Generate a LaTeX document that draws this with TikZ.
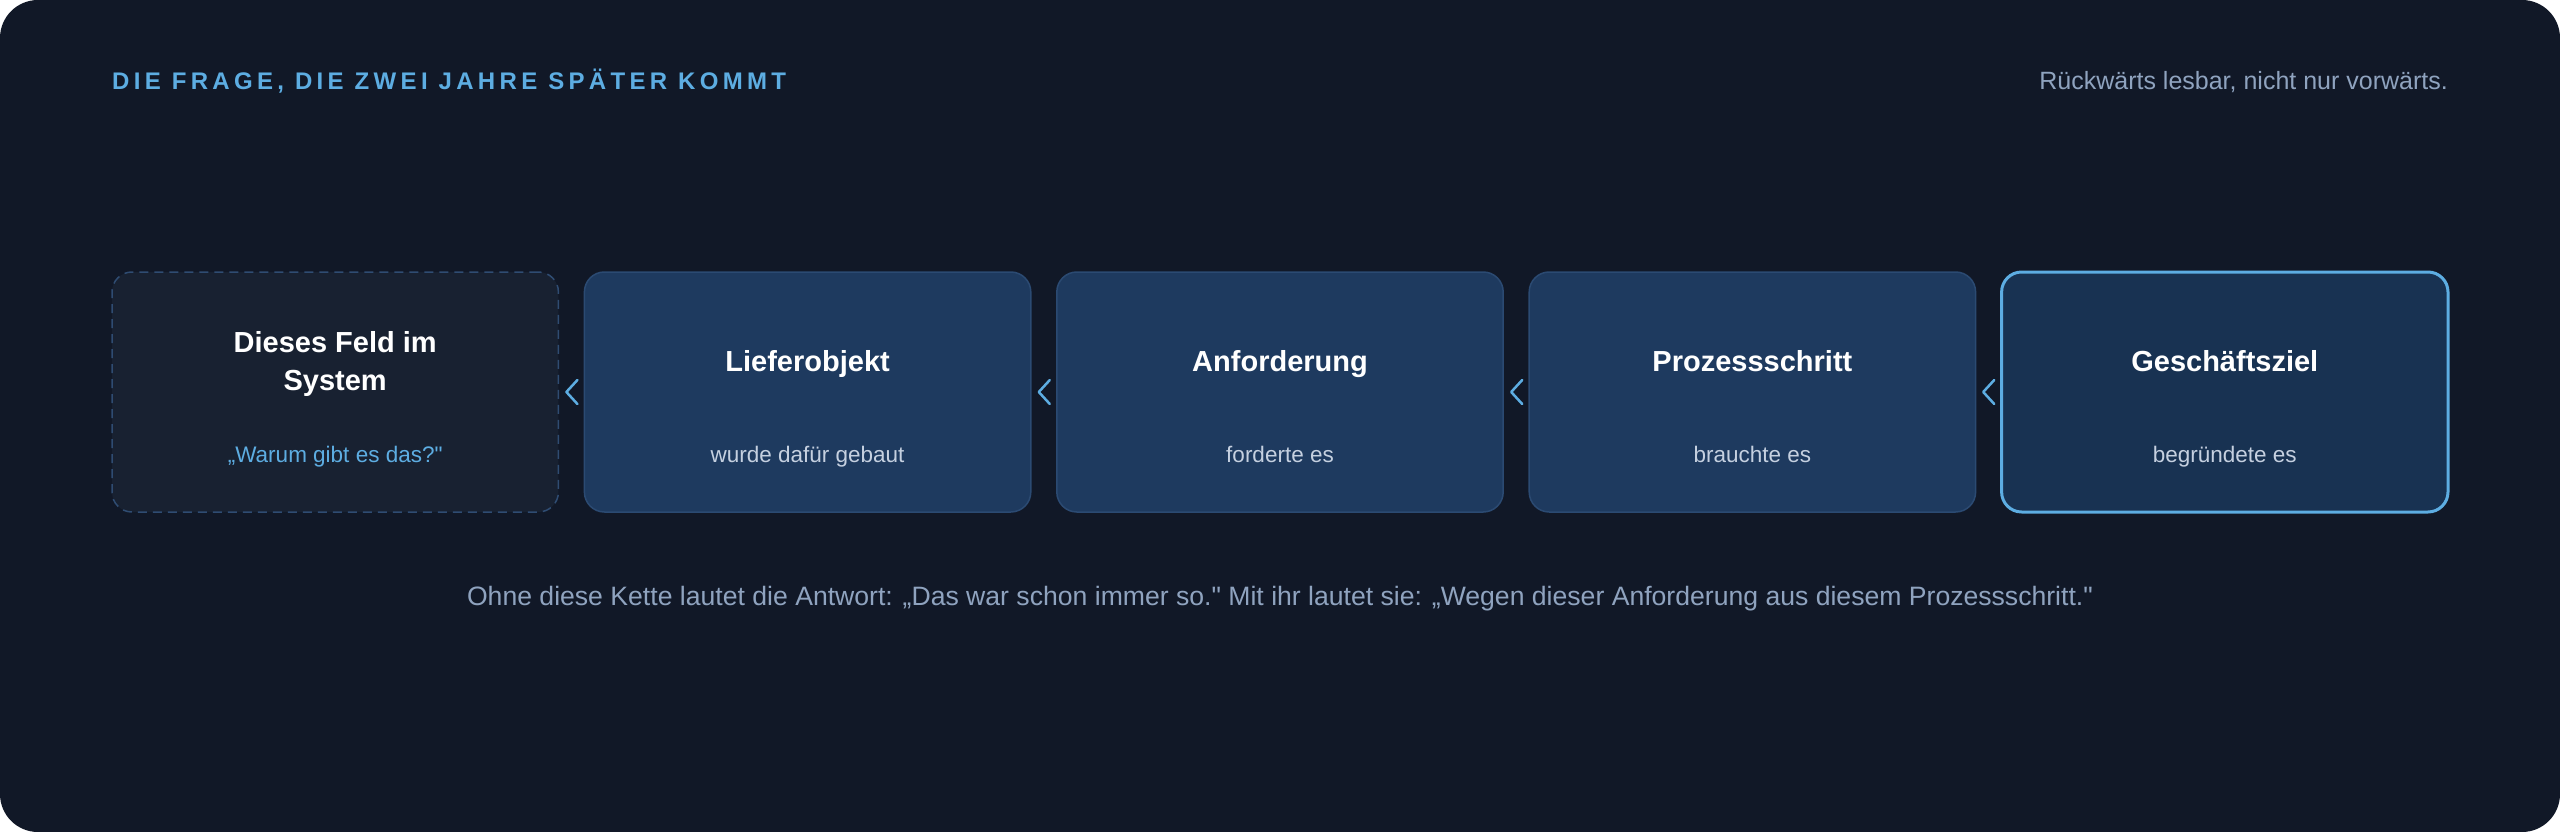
\documentclass[tikz,border=0pt]{standalone}
\usepackage{fontspec}
\setmainfont{Liberation Sans}[Ligatures=TeXOff]
\newfontfamily\capsfont{Liberation Sans}[LetterSpace=18]
\usetikzlibrary{calc}
\definecolor{bgdark}{HTML}{111827}
\definecolor{boxfill}{HTML}{1E3A5F}
\definecolor{boxline}{HTML}{2B4A72}
\definecolor{goalfill}{HTML}{183252}
\definecolor{accent}{HTML}{5DADE2}
\definecolor{startfill}{HTML}{182131}
\definecolor{startline}{HTML}{2F4C72}
\definecolor{muted}{HTML}{8FA3BF}
\definecolor{subtext}{HTML}{C5D0E0}
\tikzset{
  card/.style={rectangle, rounded corners=20pt, minimum width=446.4pt, minimum height=240pt, inner sep=0pt},
  chaincard/.style={card, fill=boxfill, draw=boxline, line width=1.5pt},
  startcard/.style={card, fill=startfill, draw=startline, line width=1.5pt, dash pattern=on 9pt off 6pt},
  goalcard/.style={card, fill=goalfill, draw=accent, line width=3pt},
  cardtitle/.style={anchor=base, text=white, font=\fontsize{29}{38}\selectfont\bfseries, inner sep=0pt},
  cardsub/.style={anchor=base, text=subtext, font=\fontsize{22.5}{27}\selectfont, inner sep=0pt},
  chev/.style={draw=accent, line width=2.5pt, line cap=round, line join=round},
  note/.style={text=muted, font=\fontsize{25}{30}\selectfont, inner sep=0pt},
}
\begin{document}
\begin{tikzpicture}[x=1pt, y=-1pt]
\useasboundingbox (0,0) rectangle (2560,832);
\fill[white] (0,0) rectangle (2560,832);
\fill[bgdark, rounded corners=38pt] (0,0) rectangle (2560,832);

\node[anchor=base west, inner sep=0pt, text=accent, font=\capsfont\bfseries\fontsize{24}{28}\selectfont] (head) at (112,90) {DIE FRAGE, DIE ZWEI JAHRE SPÄTER KOMMT};
\node[note, anchor=base east] (hint) at (2448,90) {Rückwärts lesbar, nicht nur vorwärts.};

\node[startcard] (b1) at (335.2,392) {};
\node[chaincard] (b2) at (807.6,392) {};
\node[chaincard] (b3) at (1280,392) {};
\node[chaincard] (b4) at (1752.4,392) {};
\node[goalcard] (b5) at (2224.8,392) {};

\node[cardtitle] (t1) at (335.2,352) {\begin{tabular}[t]{@{}c@{}}Dieses Feld im\\System\end{tabular}};
\node[cardsub, text=accent] (s1) at (335.2,462) {„Warum gibt es das?"};
\node[cardtitle] (t2) at (807.6,371) {Lieferobjekt};
\node[cardsub] (s2) at (807.6,462) {wurde dafür gebaut};
\node[cardtitle] (t3) at (1280,371) {Anforderung};
\node[cardsub] (s3) at (1280,462) {forderte es};
\node[cardtitle] (t4) at (1752.4,371) {Prozessschritt};
\node[cardsub] (s4) at (1752.4,462) {brauchte es};
\node[cardtitle] (t5) at (2224.8,371) {Geschäftsziel};
\node[cardsub] (s5) at (2224.8,462) {begründete es};

\foreach \a/\b in {b1/b2, b2/b3, b3/b4, b4/b5}{
  \coordinate (m) at ($(\a.east)!0.5!(\b.west)$);
  \draw[chev] ($(m)+(6,-12)$) -- ($(m)+(-5,0)$) -- ($(m)+(6,12)$);
}

\node[note, anchor=base, font=\fontsize{26.6}{32}\selectfont] (foot) at (1280,605) {Ohne diese Kette lautet die Antwort: „Das war schon immer so." Mit ihr lautet sie: „Wegen dieser Anforderung aus diesem Prozessschritt."};
\end{tikzpicture}
\end{document}
